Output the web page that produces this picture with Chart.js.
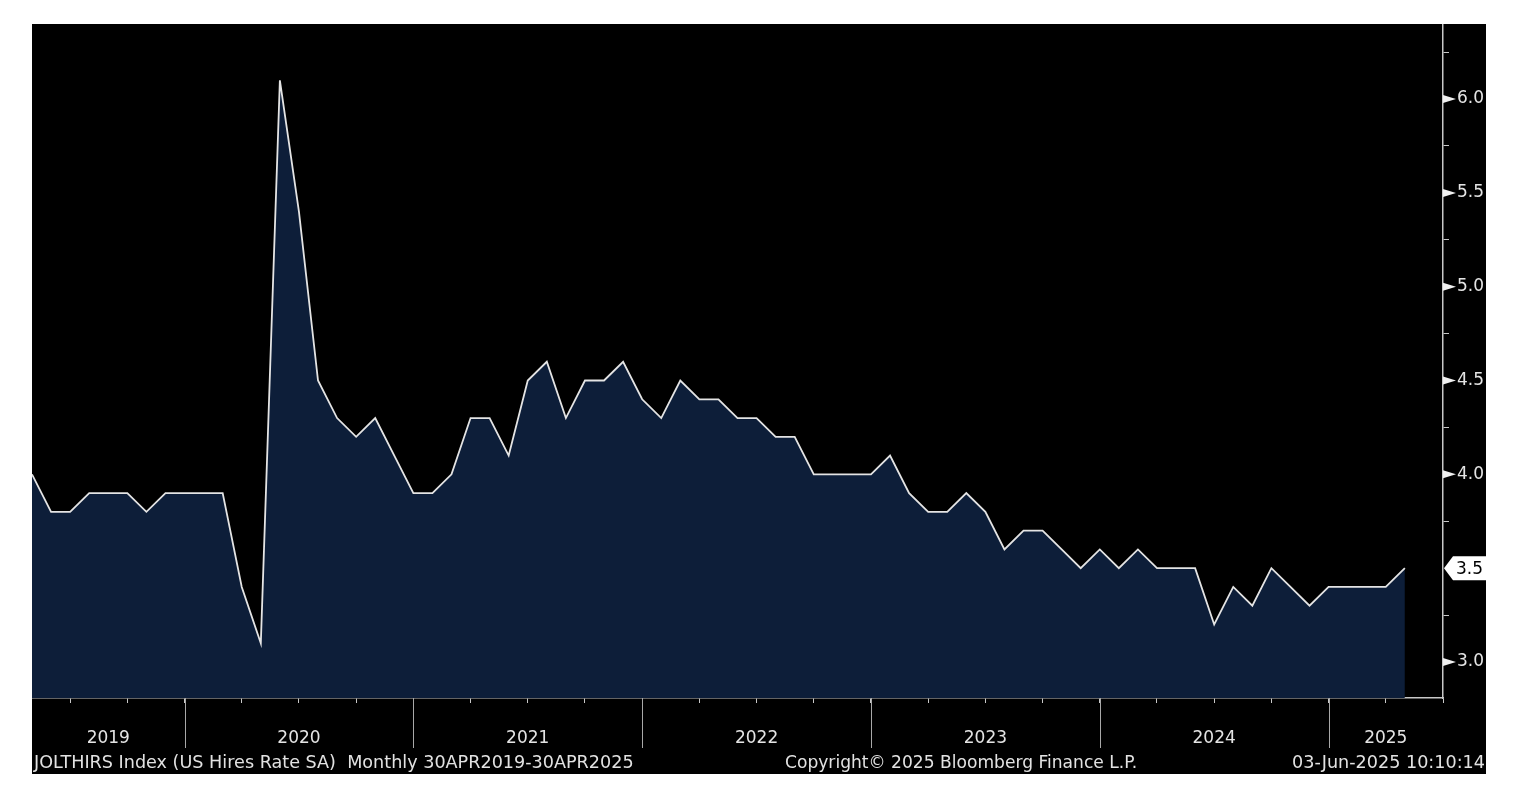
<!DOCTYPE html>
<html>
<head>
<meta charset="utf-8">
<script src="https://cdn.jsdelivr.net/npm/chart.js@4"></script>
<style>
  html, body { margin:0; padding:0; background:#ffffff; }
  #wrap { position:absolute; left:32px; top:24px; width:1454px; height:750px; background:#000000; overflow:hidden; }
  #chartBox { position:absolute; left:0; top:0; width:1454px; height:750px; }
  .foot { position:absolute; top:728px; line-height:20px; color:#e2e2e2; font-family:"DejaVu Sans", sans-serif; white-space:pre; }
</style>
</head>
<body>
<div id="wrap">
  <div id="chartBox"><canvas id="c"></canvas></div>
  <div class="foot" id="f1" style="left:2px; font-size:17.6px;">JOLTHIRS Index (US Hires Rate SA)  Monthly 30APR2019-30APR2025</div>
  <div class="foot" id="f2" style="left:753px; font-size:17.1px;">Copyright© 2025 Bloomberg Finance L.P.</div>
  <div class="foot" id="f3" style="right:1px; font-size:17.6px;">03-Jun-2025 10:10:14</div>
</div>
<script>
// ---- data (month-end observations, JOLTS US hires rate, SA) ----
const months = [
  '2019-04','2019-05','2019-06','2019-07','2019-08','2019-09','2019-10','2019-11','2019-12',
  '2020-01','2020-02','2020-03','2020-04','2020-05','2020-06','2020-07','2020-08','2020-09','2020-10','2020-11','2020-12',
  '2021-01','2021-02','2021-03','2021-04','2021-05','2021-06','2021-07','2021-08','2021-09','2021-10','2021-11','2021-12',
  '2022-01','2022-02','2022-03','2022-04','2022-05','2022-06','2022-07','2022-08','2022-09','2022-10','2022-11','2022-12',
  '2023-01','2023-02','2023-03','2023-04','2023-05','2023-06','2023-07','2023-08','2023-09','2023-10','2023-11','2023-12',
  '2024-01','2024-02','2024-03','2024-04','2024-05','2024-06','2024-07','2024-08','2024-09','2024-10','2024-11','2024-12',
  '2025-01','2025-02','2025-03','2025-04'
];
const hiresRate = [
  4.0,3.8,3.8,3.9,3.9,3.9,3.8,3.9,3.9,
  3.9,3.9,3.4,3.1,6.1,5.4,4.5,4.3,4.2,4.3,4.1,3.9,
  3.9,4.0,4.3,4.3,4.1,4.5,4.6,4.3,4.5,4.5,4.6,4.4,
  4.3,4.5,4.4,4.4,4.3,4.3,4.2,4.2,4.0,4.0,4.0,4.0,
  4.1,3.9,3.8,3.8,3.9,3.8,3.6,3.7,3.7,3.6,3.5,3.6,
  3.5,3.6,3.5,3.5,3.5,3.2,3.4,3.3,3.5,3.4,3.3,3.4,
  3.4,3.4,3.4,3.5
];
const yearLabels = ['2019','2020','2021','2022','2023','2024','2025'];
const yTickValues = [3.0,3.25,3.5,3.75,4.0,4.25,4.5,4.75,5.0,5.25,5.5,5.75,6.0,6.25];
const yLabelValues = [3.0,3.5,4.0,4.5,5.0,5.5,6.0];

// axis extent (months after first observation): Jun-2025 month end
const X_MAX = 74;
const Y_MIN = 2.808, Y_MAX = 6.40;

// derived positions on the month axis
const yearEnds = months.map((m,i)=> m.endsWith('-12') ? i : -1).filter(i=>i>=0); // Dec month-ends
const yearBounds = [0, ...yearEnds, X_MAX];
const yearCenters = yearLabels.map((y,k)=> (yearBounds[k] + yearBounds[k+1]) / 2);
const quarterTicks = [];
for (let i = 0; i <= X_MAX; i++) { if ((4 + i) % 3 === 0) quarterTicks.push(i); }

const points = hiresRate.map((v,i)=>({x:i, y:v}));
const lastValue = hiresRate[hiresRate.length-1];

Chart.defaults.font.family = '"DejaVu Sans", sans-serif';

const AXIS_COL = '#c8c8c8';
const TEXT_COL = '#e4e4e4';

function noPad(s) { s.paddingTop = 0; s.paddingBottom = 0; s.paddingLeft = 0; s.paddingRight = 0; }

const bbgPlugin = {
  id: 'bbg',
  afterDraw(chart) {
    const ctx = chart.ctx;
    const xs = chart.scales.x, ys = chart.scales.y;
    const area = chart.chartArea;
    ctx.save();
    // year separators
    ctx.strokeStyle = '#a8a8a8';
    ctx.lineWidth = 1;
    yearEnds.forEach(v => {
      const px = Math.round(xs.getPixelForValue(v)) + 0.5;
      ctx.beginPath();
      ctx.moveTo(px, area.bottom);
      ctx.lineTo(px, area.bottom + 50);
      ctx.stroke();
    });
    // triangular markers on labelled y ticks
    ctx.fillStyle = '#f0f0f0';
    yLabelValues.forEach(v => {
      if (Math.abs(v - lastValue) < 1e-9) return;
      const py = ys.getPixelForValue(v);
      ctx.beginPath();
      ctx.moveTo(area.right, py - 4);
      ctx.lineTo(area.right + 13, py);
      ctx.lineTo(area.right, py + 4);
      ctx.closePath();
      ctx.fill();
    });
    // last value box
    const py = ys.getPixelForValue(lastValue);
    const x0 = area.right + 1;
    ctx.fillStyle = '#ffffff';
    ctx.beginPath();
    ctx.moveTo(x0, py);
    ctx.lineTo(x0 + 9, py - 12);
    ctx.lineTo(x0 + 43, py - 12);
    ctx.lineTo(x0 + 43, py + 12);
    ctx.lineTo(x0 + 9, py + 12);
    ctx.closePath();
    ctx.fill();
    ctx.fillStyle = '#000000';
    ctx.font = '17px "DejaVu Sans", sans-serif';
    ctx.textBaseline = 'middle';
    ctx.textAlign = 'left';
    ctx.fillText(lastValue.toFixed(1), x0 + 12, py + 1);
    ctx.restore();
  }
};

new Chart(document.getElementById('c'), {
  type: 'line',
  data: {
    datasets: [{
      label: 'JOLTHIRS Index',
      data: points,
      borderColor: '#e4e4e4',
      borderWidth: 1.8,
      backgroundColor: '#0d1e39',
      fill: 'start',
      pointRadius: 0,
      tension: 0
    }]
  },
  options: {
    responsive: true,
    maintainAspectRatio: false,
    animation: false,
    layout: { padding: 0, autoPadding: false },
    plugins: { legend: { display: false }, tooltip: { enabled: false } },
    scales: {
      x: {
        type: 'linear', position: 'bottom', weight: 0,
        min: 0, max: X_MAX,
        afterBuildTicks: s => { s.ticks = quarterTicks.map(v => ({ value: v })); },
        afterFit: s => { s.height = 6; noPad(s); },
        ticks: { display: false },
        grid: { drawOnChartArea: false, drawTicks: true, tickLength: 5, tickColor: AXIS_COL, tickWidth: 1 },
        border: { display: true, color: AXIS_COL, width: 1.5 }
      },
      x2: {
        type: 'linear', position: 'bottom', weight: 1,
        min: 0, max: X_MAX,
        afterBuildTicks: s => { s.ticks = yearCenters.map(v => ({ value: v })); },
        afterFit: s => { s.height = 70; noPad(s); },
        ticks: {
          autoSkip: false, maxRotation: 0, padding: 16,
          color: TEXT_COL, font: { size: 17 },
          callback: (v) => { const k = yearCenters.indexOf(v); return k >= 0 ? yearLabels[k] : ''; }
        },
        grid: { display: false },
        border: { display: false }
      },
      y: {
        type: 'linear', position: 'right',
        min: Y_MIN, max: Y_MAX,
        afterBuildTicks: s => { s.ticks = yTickValues.map(v => ({ value: v })); },
        afterFit: s => { s.width = 43; noPad(s); },
        ticks: {
          padding: 8, color: TEXT_COL, font: { size: 17 },
          callback: (v) => (yLabelValues.includes(v) && Math.abs(v - lastValue) > 1e-9) ? v.toFixed(1) : ''
        },
        grid: {
          drawOnChartArea: false, drawTicks: true, tickLength: 6, tickWidth: 1,
          tickColor: ctx => (ctx.tick && yLabelValues.includes(ctx.tick.value)) ? 'rgba(0,0,0,0)' : AXIS_COL
        },
        border: { display: true, color: AXIS_COL, width: 1.5 }
      }
    }
  },
  plugins: [bbgPlugin]
});
</script>
</body>
</html>
